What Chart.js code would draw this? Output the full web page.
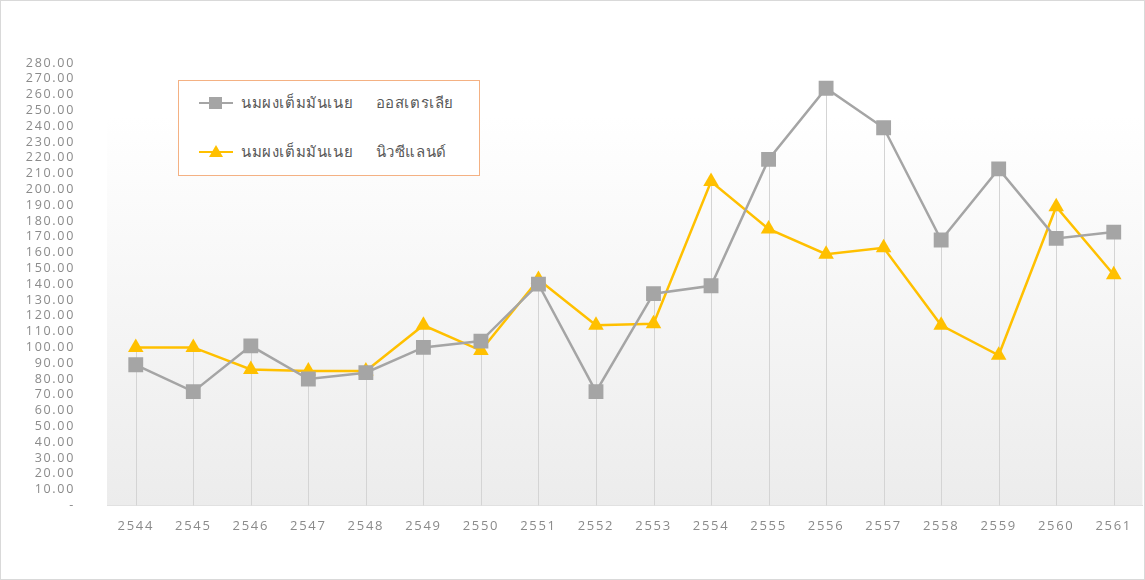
<!DOCTYPE html>
<html>
<head>
<meta charset="utf-8">
<script src="https://cdn.jsdelivr.net/npm/chart.js@4.4.1/dist/chart.umd.min.js"></script>
<style>
  body { margin: 0; background: #fff; }
  .wrap { position: relative; width: 1145px; height: 580px; overflow: hidden; }
  .frame { position: absolute; left: 0; top: 0; right: 0; bottom: 0; border: 1px solid #d9d9d9; pointer-events: none; }
  .legend {
    position: absolute; left: 178px; top: 80px; width: 300px; height: 94px;
    border: 1px solid #f4b183; background: #fff;
    font-family: "Noto Sans", "Open Sans", sans-serif; font-size: 15px; color: #595959; letter-spacing: 0.6px;
  }
  .item { position: absolute; left: 20px; height: 20px; display: flex; align-items: center; }
  .sym { position: relative; width: 34px; height: 20px; margin-right: 8px; }
  .sym .ln { position: absolute; left: 0; right: 0; top: 9px; height: 2px; }
  .sym .sq { position: absolute; left: 10px; top: 4px; width: 13px; height: 12px; background: #a5a5a5; }
  .sym .tri { position: absolute; left: 10px; top: 3px; width: 0; height: 0;
    border-left: 7px solid transparent; border-right: 7px solid transparent; border-bottom: 12px solid #ffc000; }
</style>
</head>
<body>
<div class="wrap">
  <canvas id="milkChart" width="1153" height="580"></canvas>
  <div class="legend" id="legend"></div>
  <div class="frame"></div>
</div>
<script>
const years = ['2544','2545','2546','2547','2548','2549','2550','2551','2552','2553','2554','2555','2556','2557','2558','2559','2560','2561'];
const australia = [89, 72, 101, 80, 84, 100, 104, 140, 72, 134, 139, 219, 264, 239, 168, 213, 169, 173];
const newZealand = [100, 100, 86, 85, 85, 114, 98, 143, 114, 115, 205, 175, 159, 163, 114, 95, 189, 146];
const seriesNames = ['นมผงเต็มมันเนย     ออสเตรเลีย', 'นมผงเต็มมันเนย     นิวซีแลนด์'];

const grayColor = '#a5a5a5';
const goldColor = '#ffc000';

// letter spacing on the canvas text, Excel text in the picture is wide
const spacing = {
  id: 'spacing',
  beforeDraw(chart) { chart.ctx.letterSpacing = '1.7px'; }
};

// gradient plot area + drop lines from the highest point down to the axis
const plotDecor = {
  id: 'plotDecor',
  beforeDatasetsDraw(chart) {
    const { ctx, chartArea, scales } = chart;
    const g = ctx.createLinearGradient(0, chartArea.top, 0, chartArea.bottom);
    g.addColorStop(0, '#ffffff');
    g.addColorStop(0.12, '#ffffff');
    g.addColorStop(1, '#ececec');
    ctx.save();
    ctx.fillStyle = g;
    ctx.fillRect(chartArea.left, chartArea.top, chartArea.right - chartArea.left, chartArea.bottom - chartArea.top);
    ctx.strokeStyle = '#d4d4d4';
    ctx.lineWidth = 1;
    years.forEach((y, i) => {
      const top = Math.max(australia[i], newZealand[i]);
      const x = Math.round(scales.x.getPixelForValue(i)) + 0.5;
      ctx.beginPath();
      ctx.moveTo(x, scales.y.getPixelForValue(top));
      ctx.lineTo(x, chartArea.bottom);
      ctx.stroke();
    });
    ctx.restore();
  }
};

const ctx = document.getElementById('milkChart').getContext('2d');
const milkChart = new Chart(ctx, {
  type: 'line',
  data: {
    labels: years,
    datasets: [{
      label: seriesNames[0],
      data: australia,
      borderColor: grayColor,
      backgroundColor: grayColor,
      borderWidth: 2.5,
      pointStyle: 'rect',
      pointRadius: 10.5,
      pointBorderWidth: 0,
      tension: 0
    }, {
      label: seriesNames[1],
      data: newZealand,
      borderColor: goldColor,
      backgroundColor: goldColor,
      borderWidth: 2.5,
      pointStyle: 'triangle',
      pointRadius: 9,
      pointBorderWidth: 0,
      tension: 0
    }]
  },
  options: {
    responsive: false,
    animation: false,
    layout: { padding: { top: 63, right: 0, bottom: 41, left: 0 } },
    plugins: { legend: { display: false }, tooltip: { enabled: false } },
    scales: {
      x: {
        offset: true,
        grid: { display: false },
        border: { display: true, color: '#d9d9d9' },
        afterFit(scale) { scale.paddingLeft = 0; scale.paddingRight = 0; },
        ticks: { color: '#8a8a8a', font: { family: 'Open Sans', size: 13 }, padding: 5, maxRotation: 0, autoSkip: false }
      },
      y: {
        min: 0,
        max: 280,
        grid: { display: false, drawTicks: false },
        border: { display: false },
        afterFit(scale) { scale.width = 107; },
        ticks: {
          stepSize: 10,
          autoSkip: false,
          padding: 32,
          color: '#8a8a8a',
          font: { family: 'Open Sans', size: 12.5 },
          callback: v => v === 0 ? '-' : v.toFixed(2)
        }
      }
    }
  },
  plugins: [spacing, plotDecor]
});

// html legend built from the datasets
const legendBox = document.getElementById('legend');
milkChart.data.datasets.forEach((ds, i) => {
  const item = document.createElement('div');
  item.className = 'item';
  item.style.top = (i === 0 ? 12 : 61) + 'px';
  const marker = i === 0 ? '<div class="sq"></div>' : '<div class="tri"></div>';
  item.innerHTML = '<div class="sym"><div class="ln" style="background:' + ds.borderColor + '"></div>' + marker + '</div>' +
    '<span style="white-space:pre">' + ds.label + '</span>';
  legendBox.appendChild(item);
});
</script>
</body>
</html>
